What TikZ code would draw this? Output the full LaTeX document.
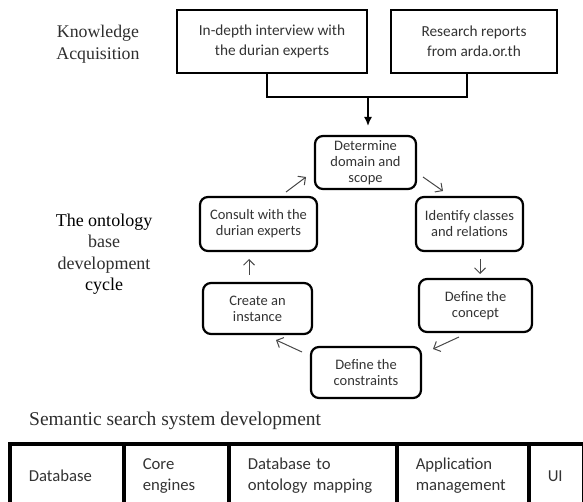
\documentclass[tikz,border=0pt]{standalone}
\usepackage{fontspec}
\setmainfont{Liberation Serif}
\newfontfamily\calfont{Carlito}
\usetikzlibrary{arrows.meta}
\definecolor{txtgray}{gray}{0.2}
\definecolor{lblgray}{gray}{0.18}
\definecolor{arrgray}{gray}{0.28}
\begin{document}
\begin{tikzpicture}[x=1pt,y=-1pt,
  topbox/.style={draw, line width=1.8pt, inner sep=0pt, align=center, text=txtgray,
    font=\calfont\fontsize{15.3}{20}\selectfont},
  cyclebox/.style={draw, line width=2.2pt, rounded corners=8pt, inner sep=0pt, align=center,
    text=txtgray, font=\calfont\fontsize{14.5}{16}\selectfont},
  cyc/.style={-{Straight Barb[length=5.5pt,width=11pt,line width=1pt]}, line width=1pt, draw=arrgray},
  cell/.style={draw, line width=3.5pt, anchor=north west, minimum height=64pt, inner xsep=19pt,
    inner ysep=0pt, align=left, text=txtgray, font=\calfont\fontsize{16.7}{21}\selectfont},
  serif/.style={align=center, inner sep=0pt}
]
\useasboundingbox (0,0) rectangle (583,502);
\clip (0,0) rectangle (583,502);

% Knowledge acquisition
\node[serif, text=lblgray, font=\fontsize{17.8}{22}\selectfont] (ka) at (98,44) {Knowledge\\Acquisition};
\node[topbox, minimum width=190pt, minimum height=63pt] (interview) at (272,41.5)
  {In-depth interview with\\the durian experts};
\node[topbox, minimum width=166pt, minimum height=63pt] (reports) at (474,41.5)
  {Research reports\\from arda.or.th};
\coordinate (join) at (368,97);
\draw[line width=1.5pt] ([xshift=-5pt]interview.south) |- (join) -| ([xshift=-7pt]reports.south);

% Cycle
\node[cyclebox, minimum width=101pt, minimum height=53pt] (determine) at (365.5,162.5) {Determine\\domain and\\scope};
\node[cyclebox, minimum width=107pt, minimum height=54pt] (identify) at (469.5,224) {Identify classes\\and relations};
\node[cyclebox, minimum width=113pt, minimum height=53pt] (concept) at (475.5,305.5) {Define the\\concept};
\node[cyclebox, minimum width=110pt, minimum height=51pt] (constraints) at (366,372.5) {Define the\\constraints};
\node[cyclebox, minimum width=109pt, minimum height=51pt] (create) at (257.5,308.5) {Create an\\instance};
\node[cyclebox, minimum width=117pt, minimum height=54pt] (consult) at (258.5,224) {Consult with the\\durian experts};

\draw[line width=1.3pt, -{Latex[length=9pt,width=8pt]}, shorten >=9pt] (join) -- (join |- determine.north);

\coordinate (a1s) at (286,192); \coordinate (a1e) at (306,177);
\coordinate (a2s) at (423,177); \coordinate (a2e) at (443,191);
\coordinate (a3s) at (480,259); \coordinate (a3e) at (480,274);
\coordinate (a4s) at (459,337); \coordinate (a4e) at (433,349);
\coordinate (a5s) at (302,352); \coordinate (a5e) at (276,340);
\coordinate (a6s) at (249,275); \coordinate (a6e) at (249,259);
\draw[cyc] (a1s) -- (a1e);
\draw[cyc] (a2s) -- (a2e);
\draw[cyc] (a3s) -- (a3e);
\draw[cyc] (a4s) -- (a4e);
\draw[cyc] (a5s) -- (a5e);
\draw[cyc] (a6s) -- (a6e);

\node[serif, font=\fontsize{18}{21.5}\selectfont] (cycle) at (104,254)
  {The ontology\\\textcolor{lblgray}{base}\\\textcolor{lblgray}{development}\\cycle};

% Semantic search system development
\node[anchor=west, inner sep=0pt, font=\fontsize{19.5}{22}\selectfont, text=lblgray] (title) at (29,421)
  {Semantic search system development};
\node[cell, text width=76pt] (c1) at (8,442) {Database};
\node[cell, text width=67pt] (c2) at (122,442) {Core\\engines};
\node[cell, text width=130pt] (c3) at (227,442) {Database to\\ontology mapping};
\node[cell, text width=94pt] (c4) at (395,442) {Application\\management};
\node[cell, text width=17pt] (c5) at (527,442) {UI};
\end{tikzpicture}
\end{document}
